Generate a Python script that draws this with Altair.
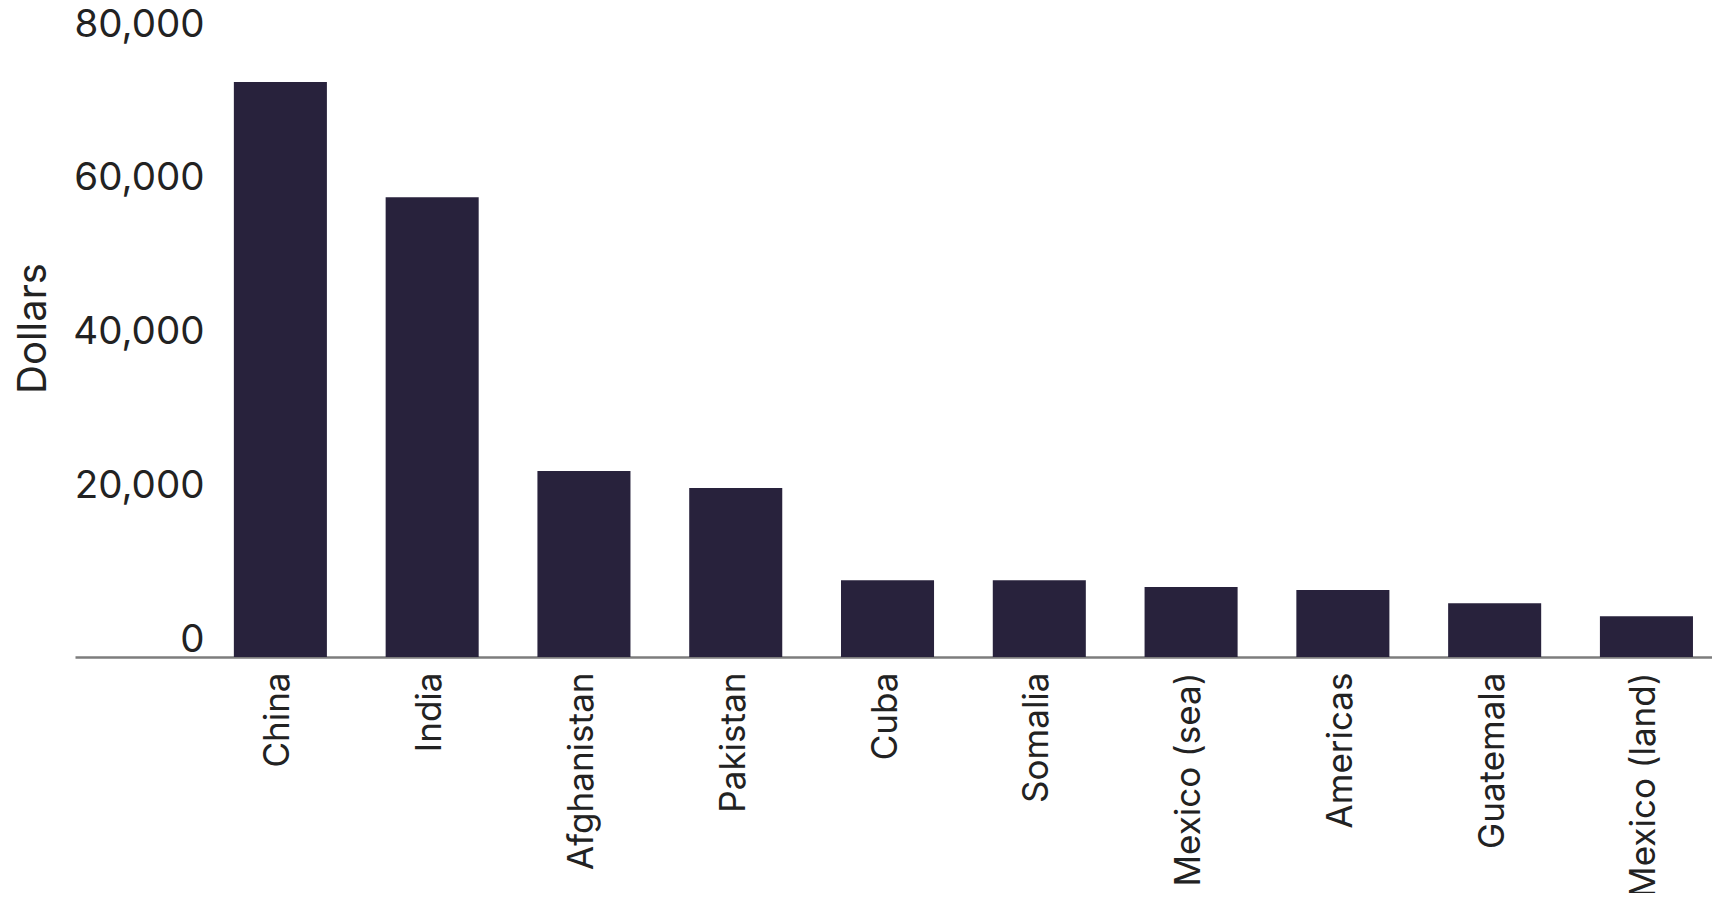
import altair as alt
import pandas as pd

categories = ["China", "India", "Afghanistan", "Pakistan", "Cuba", "Somalia",
              "Mexico (sea)", "Americas", "Guatemala", "Mexico (land)"]
dollars = [74800, 59800, 24200, 22000, 10000, 10000, 9100, 8700, 7000, 5300]
y_ticks = [0, 20000, 40000, 60000, 80000]

df = pd.DataFrame({"country": categories, "dollars": dollars})

FONT = "Inter"
TEXT = "#222222"

chart = alt.Chart(df).mark_bar(color="#28223C").encode(
    x=alt.X(
        "country:N",
        sort=categories,
        title=None,
        scale=alt.Scale(paddingInner=0.387, paddingOuter=0.586, align=0.893),
        axis=alt.Axis(
            labelAngle=-90,
            labelAlign="right",
            labelBaseline="middle",
            labelPadding=15,
            labelLimit=0,
            labelOffset=-2,
            labelFont=FONT,
            labelFontSize=35,
            labelColor=TEXT,
            ticks=False,
            tickSize=0,
            domainColor="#7d7d7d",
            domainWidth=2.5,
            grid=False,
        ),
    ),
    y=alt.Y(
        "dollars:Q",
        title="Dollars",
        scale=alt.Scale(domain=[0, 80000], nice=False),
        axis=alt.Axis(
            values=y_ticks,
            format=",d",
            domain=False,
            ticks=False,
            tickSize=0,
            grid=False,
            offset=-129,
            labelPadding=0,
            labelBaseline="alphabetic",
            labelOffset=-6,
            labelFlush=False,
            labelFont=FONT,
            labelFontSize=38.5,
            labelColor=TEXT,
            titleFont=FONT,
            titleFontSize=40,
            titleFontWeight="normal",
            titleColor=TEXT,
            titleAngle=-90,
            titleAlign="center",
            titleBaseline="middle",
            titleX=-171,
            titleY=286,
        ),
    ),
).properties(
    width=1637,
    height=615,
    padding={"left": 67, "top": 34, "right": 0, "bottom": 236},
    autosize=alt.AutoSizeParams(type="none"),
).configure_view(stroke=None)

chart.save("out.html", embed_options={"renderer": "svg", "actions": False})
